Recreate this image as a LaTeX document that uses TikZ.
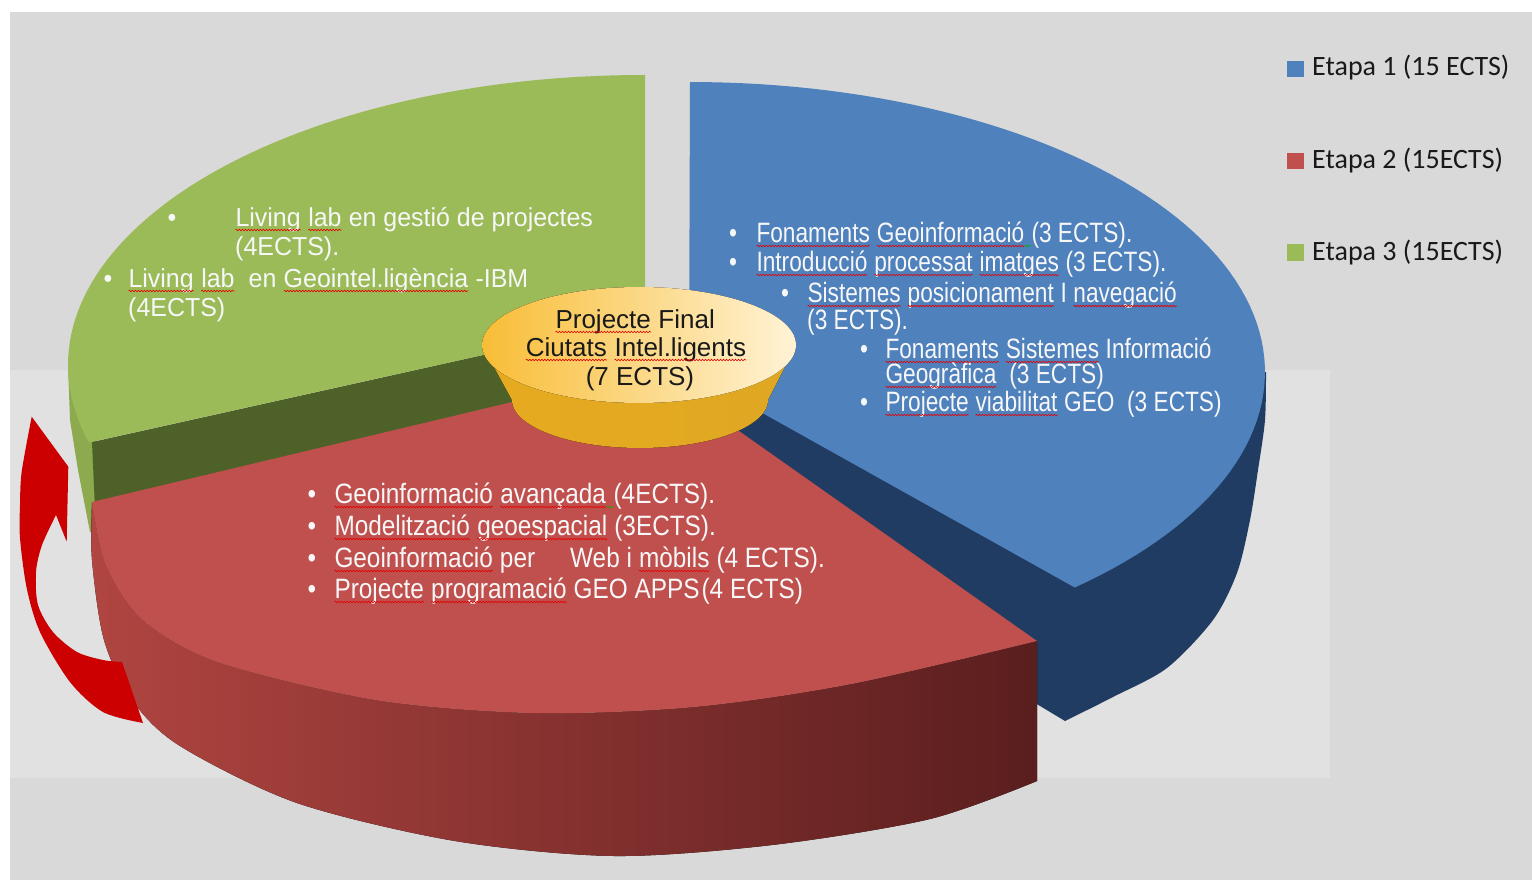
\documentclass[tikz,border=0pt]{standalone}
\usepackage{fontspec}
\usetikzlibrary{decorations.pathmorphing}
\newfontfamily\bfnt[FakeStretch=0.81]{Liberation Sans}
\newfontfamily\rfnt[FakeStretch=0.87]{Liberation Sans}
\newfontfamily\gfnt[FakeStretch=0.96]{Liberation Sans}
\newfontfamily\cfnt{Liberation Sans}
\newfontfamily\lfnt{Carlito}
\definecolor{bg}{HTML}{D9D9D9}
\definecolor{bglight}{HTML}{E1E1E1}
\definecolor{blueT}{HTML}{4F81BD}
\definecolor{blueS}{HTML}{213C62}
\definecolor{redT}{HTML}{C0504D}
\definecolor{redSL}{HTML}{B04541}
\definecolor{redSR}{HTML}{5A1E1E}
\definecolor{greenT}{HTML}{9BBB59}
\definecolor{greenS}{HTML}{4E6128}
\definecolor{greenO}{HTML}{8DAA4E}
\definecolor{goldL}{HTML}{F8BD36}
\definecolor{goldM}{HTML}{FDDA86}
\definecolor{goldR}{HTML}{FFF3D6}
\definecolor{goldSL}{HTML}{E6AA20}
\definecolor{goldSM}{HTML}{F5CC4C}
\definecolor{goldSR}{HTML}{DFA822}
\definecolor{arrowred}{HTML}{CC0000}
\definecolor{txt}{HTML}{F7F7F7}
\tikzset{
  sqline/.style={draw=red!90!black, line width=0.6pt, decorate, decoration={snake, amplitude=0.8pt, segment length=3pt}},
  gsqline/.style={draw=green!70!black, line width=0.6pt, decorate, decoration={snake, amplitude=0.8pt, segment length=3pt}}
}
\newcommand\sq[1]{\tikz[baseline=(sqw.base)]{\node[inner sep=0pt,outer sep=0pt,anchor=base](sqw){#1};\draw[sqline]([yshift=-4pt]sqw.base west)--([yshift=-4pt]sqw.base east);}}
\newcommand\gsq[1]{\tikz[baseline=(sqw.base)]{\node[inner sep=0pt,outer sep=0pt,anchor=base](sqw){#1};\draw[gsqline]([yshift=-4pt]sqw.base west)--([yshift=-4pt]sqw.base east);}}
\begin{document}
\begin{tikzpicture}[x=1pt,y=-1pt,
  gtxt/.style={text=txt, inner sep=0pt, anchor=base west, font=\gfnt\fontsize{26}{26}\selectfont},
  btxt/.style={text=txt, inner sep=0pt, anchor=base west, font=\bfnt\fontsize{28}{28}\selectfont},
  rtxt/.style={text=txt, inner sep=0pt, anchor=base west, font=\rfnt\fontsize{28}{28}\selectfont},
  gbul/.style={text=txt, inner sep=0pt, anchor=base, font=\gfnt\fontsize{26}{26}\selectfont},
  bbul/.style={text=txt, inner sep=0pt, anchor=base, font=\bfnt\fontsize{28}{28}\selectfont},
  rbul/.style={text=txt, inner sep=0pt, anchor=base, font=\rfnt\fontsize{28}{28}\selectfont},
  ctxt/.style={text=black!90, inner sep=0pt, anchor=base, font=\cfnt\fontsize{26}{26}\selectfont},
  leg/.style={text=black!90, inner sep=0pt, anchor=base west, font=\lfnt\fontsize{28}{28}\selectfont}
]
\useasboundingbox (0,0) rectangle (1532,880);
% background
\fill[white] (-5,-5) rectangle (1540,890);
\fill[bg] (10,12) rectangle (1540,890);
\fill[bglight] (10,370) rectangle (1330,778);

% ---------- green slice (Etapa 3)
\fill[greenO] (68,365) -- (70,420) -- (78,470) -- (90,532) -- (97,532) -- (97,440) -- cycle;
\fill[greenS] (92,442) -- (645,319) -- (645,440) -- (96,532) -- cycle;
\fill[greenT] (645,319) -- (645,75) -- plot[domain=90:195.5,samples=70] ({643+575*cos(\x)},{365-290*sin(\x)}) -- cycle;

% ---------- blue slice (Etapa 1)
\fill[blueS] (700,380) -- (1266,372) -- plot[smooth] coordinates {(1266,372)(1265,420)(1258,470)(1250,520)(1237,573)(1213,620)(1167,668)(1113,697)(1065,721)} -- (1030,700) -- (745,440) -- cycle;
\fill[blueT] (689,372) -- plot[domain=90:-48,samples=80] ({690+575*cos(\x)},{372-290*sin(\x)}) -- cycle;

% ---------- red slice (Etapa 2)
\fill[left color=redSL, right color=redSR]
  plot[smooth] coordinates {(92,502)(106,565)(143,620)(218,662)(376,700)(534,713)(693,707)(851,684)(1037,641)}
  -- (1037,781)
  -- plot[smooth] coordinates {(1037,781)(930,819)(772,845)(614,856)(455,841)(297,803)(180,746)(132,700)(104,640)(92,560)(92,502)}
  -- cycle;
\fill[redT] (651,369) -- (1037,641)
  -- plot[smooth] coordinates {(1037,641)(851,684)(693,707)(534,713)(376,700)(218,662)(143,620)(106,565)(92,502)}
  -- cycle;

% ---------- central disc
\fill[left color=goldSL, middle color=goldSM, right color=goldSR]
  (482,345) -- plot[domain=180:360,samples=50] ({640+128*cos(\x)},{400-48*sin(\x)}) -- (796,345) -- cycle;
\fill[left color=goldL, middle color=goldM, right color=goldR] (639,345) ellipse [x radius=157, y radius=58];

% ---------- green texts
\node[gbul] (gb1) at (172,226) {•};
\node[gtxt] (gt1) at (235,226) {\sq{Living} \sq{lab} en gestió de projectes};
\node[gtxt] (gt2) at (235,255) {(4ECTS).};
\node[gbul] (gb2) at (108,287) {•};
\node[gtxt] (gt3) at (128,287) {\sq{Living} \sq{lab}\ \ en \sq{Geointel.ligència} -IBM};
\node[gtxt] (gt4) at (128,316) {(4ECTS)};

% ---------- blue texts
\node[bbul] (bb1) at (733,242) {•};
\node[btxt] (bt1) at (756,242) {\sq{Fonaments} \sq{Geoinformació}\gsq{\ \ }(3 ECTS).};
\node[bbul] (bb2) at (733,271) {•};
\node[btxt] (bt2) at (756,271) {\sq{Introducció} \sq{processat} \sq{imatges} (3 ECTS).};
\node[bbul] (bb3) at (785,302) {•};
\node[btxt] (bt3) at (807,302) {\sq{Sistemes} \sq{posicionament} I \sq{navegació}};
\node[btxt] (bt4) at (807,329) {(3 ECTS).};
\node[bbul] (bb4) at (864,358) {•};
\node[btxt] (bt5) at (885,358) {\sq{Fonaments} \sq{Sistemes} Informació};
\node[btxt] (bt6) at (885,383) {\sq{Geogràfica}\ \ (3 ECTS)};
\node[bbul] (bb5) at (864,411) {•};
\node[btxt] (bt7) at (885,411) {\sq{Projecte} \sq{viabilitat} GEO\ \ (3 ECTS)};

% ---------- red texts
\node[rbul] (rb1) at (312,503) {•};
\node[rtxt] (rt1) at (334,503) {\sq{Geoinformació} \sq{avançada}\gsq{\ \ }(4ECTS).};
\node[rbul] (rb2) at (312,535) {•};
\node[rtxt] (rt2) at (334,535) {\sq{Modelització} \sq{geoespacial} (3ECTS).};
\node[rbul] (rb3) at (312,567) {•};
\node[rtxt] (rt3) at (334,567) {\sq{Geoinformació} per\hspace{1.25em}Web i \sq{mòbils} (4 ECTS).};
\node[rbul] (rb4) at (312,598) {•};
\node[rtxt] (rt4) at (334,598) {\sq{Projecte} \sq{programació} GEO APPS\kern2pt(4 ECTS)};

% ---------- centre texts
\node[ctxt] (c1) at (635,328) {\sq{Projecte} Final};
\node[ctxt] (c2) at (636,356) {\sq{Ciutats} \sq{Intel.ligents}};
\node[ctxt] (c3) at (640,385) {(7 ECTS)};

% ---------- legend
\fill[blueT] (1287,61) rectangle (1304,77);
\node[leg] (l1) at (1312,76) {Etapa 1 (15 ECTS)};
\fill[redT] (1287,153) rectangle (1304,169);
\node[leg] (l2) at (1312,168) {Etapa 2 (15ECTS)};
\fill[greenT] (1287,244) rectangle (1304,261);
\node[leg] (l3) at (1312,260) {Etapa 3 (15ECTS)};

% ---------- curved arrow
\fill[arrowred] (31.7,416.7) -- (68.3,466.7) -- (66.7,541.7) -- (56,515)
  -- plot[smooth] coordinates {(56,515)(42,545)(36,572)(38,605)(53,632)(77,652)(103,660)(122,662)}
  -- (143,723)
  -- plot[smooth] coordinates {(143,723)(103,712)(70,682)(40,632)(26.7,588)(20,538)(20,505)(21.7,471.7)(31.7,416.7)}
  -- cycle;
\end{tikzpicture}
\end{document}
